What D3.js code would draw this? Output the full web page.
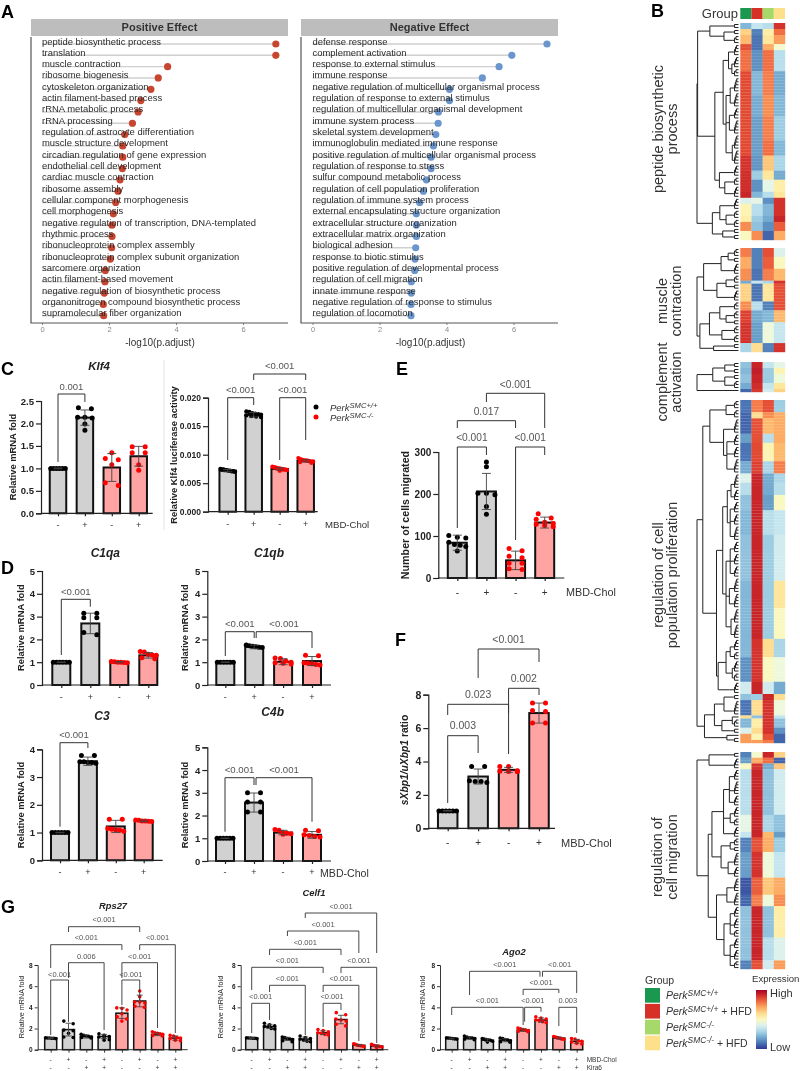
<!DOCTYPE html>
<html><head><meta charset="utf-8">
<script src="https://cdn.jsdelivr.net/npm/d3@7"></script>
<style>
html,body{margin:0;padding:0;background:#fff}
svg{display:block;filter:blur(.35px)}
text{font-family:"Liberation Sans",Arial,sans-serif}
</style></head><body><div id="chart"></div>
<script>
// ---------- Panel A data ----------
const posTerms=["peptide biosynthetic process","translation","muscle contraction","ribosome biogenesis","cytoskeleton organization","actin filament-based process","rRNA metabolic process","rRNA processing","regulation of astrocyte differentiation","muscle structure development","circadian regulation of gene expression","endothelial cell development","cardiac muscle contraction","ribosome assembly","cellular component morphogenesis","cell morphogenesis","negative regulation of transcription, DNA-templated","rhythmic process","ribonucleoprotein complex assembly","ribonucleoprotein complex subunit organization","sarcomere organization","actin filament-based movement","negative regulation of biosynthetic process","organonitrogen compound biosynthetic process","supramolecular fiber organization"];
const posValues=[6.98,6.98,3.75,3.47,3.25,2.95,2.87,2.70,2.47,2.41,2.41,2.40,2.33,2.27,2.20,2.13,2.09,2.09,2.08,2.04,1.89,1.88,1.86,1.83,1.84];
const negTerms=["defense response","complement activation","response to external stimulus","immune response","negative regulation of multicellular organismal process","regulation of response to external stimulus","regulation of multicellular organismal development","immune system process","skeletal system development","immunoglobulin mediated immune response","positive regulation of multicellular organismal process","regulation of response to stress","sulfur compound metabolic process","regulation of cell population proliferation","regulation of immune system process","external encapsulating structure organization","extracellular structure organization","extracellular matrix organization","biological adhesion","response to biotic stimulus","positive regulation of developmental process","regulation of cell migration","innate immune response","negative regulation of response to stimulus","regulation of locomotion"];
const negValues=[7.0,5.95,5.57,5.07,4.09,4.09,3.76,3.75,3.68,3.61,3.54,3.54,3.40,3.31,3.20,3.10,3.10,3.10,3.08,3.06,3.05,2.95,2.95,2.94,2.94];

// ---------- Panel B data: [rows, col1, col2, col3, col4], -1 low .. +1 high ----------
const groupColors=["#1a9850","#d73027","#a6d96a","#fee08b"];
const heatPeptide=[[2,-.55,-.3,-.35,.8],[2,.25,-.75,.1,.6],[3,.35,-.8,.15,.45],[2,.7,-.8,.4,-.05],[7,.6,-.7,.6,-.35],[8,.72,-.55,.55,-.6],[7,.72,-.6,.5,-.55],[8,.72,-.65,.55,-.45],[5,.72,-.65,.6,-.55],[5,.8,-.68,.3,-.4],[3,.82,-.45,.15,-.6],[4,.82,-.7,-.15,.1],[2,.85,-.55,-.35,.15],[2,-.2,-.15,-.7,.8],[4,.05,-.35,-.55,.8],[2,.1,-.45,-.6,.85],[3,.5,-.5,-.7,.65],[3,0,.5,-.85,.4]];
const heatMuscle=[[3,.55,-.75,.7,-.2],[4,.4,-.75,.65,0],[4,.5,-.8,.55,.35],[1,-.6,-.3,-.4,.8],[6,.25,-.8,.15,.7],[3,.5,-.35,-.75,.7],[4,.75,-.6,-.55,.35],[7,.8,-.65,-.1,-.3],[3,-.4,.2,-.75,.8]];
const heatComplement=[[2,-.5,.85,-.3,-.15],[2,-.55,.88,-.45,.05],[3,-.5,.85,-.45,-.1],[2,-.6,.82,-.3,.15],[1,-.85,.78,-.25,.25]];
const heatProlif=[[4,-.8,.55,.7,-.45],[2,-.85,.2,.5,.4],[5,-.85,.7,.35,.4],[3,-.65,.7,-.35,.4],[6,-.8,.72,.05,.35],[4,-.6,.75,-.4,.55],[3,-.2,.85,-.6,-.4],[4,-.35,.85,-.6,-.35],[5,-.5,.85,-.65,0],[8,-.55,.85,-.35,-.3],[15,-.5,.85,-.45,-.25],[9,-.55,.85,-.45,.15],[10,-.55,.85,-.45,0],[6,-.55,.8,.2,-.4],[8,-.7,.8,0,-.1],[4,-.25,.85,-.25,-.6],[2,-.5,-.45,.85,.2],[5,-.8,.2,.8,-.1],[1,.2,-.5,.8,-.3],[3,-.55,.1,.8,-.5],[2,-.2,.2,.8,-.7],[2,.45,.05,.7,-.85],[1,.45,.45,.55,-.85]];
const heatMigration=[[2,-.75,-.05,.85,.25],[2,-.65,.4,.6,-.85],[2,0,.8,-.6,.3],[16,-.35,.85,-.5,-.25],[6,-.15,.85,-.4,-.5],[2,-.3,.85,.35,-.65],[5,-.75,.7,.4,-.45],[9,-.65,.8,-.1,-.3],[6,-.9,.65,.3,.4],[4,-.85,.55,-.1,.5],[11,-.5,.85,-.5,.1],[6,-.5,.85,-.35,-.2],[2,-.5,.85,-.35,-.2],[3,-.75,.7,-.25,.45]];
// Dendrograms: [height, ...children]; an integer child is a clade of that many rows
const treePeptide=[1,[.985,[.69,[.2,2],[.35,[.15,2],[.15,3]]],[.57,[.37,[.24,4,[.16,4,3]],[.3,[.2,5,5],[.22,4,5],[.15,5,5]]],[.46,[.12,4],[.33,[.18,3],[.13,4]]]]],[.63,[.45,[.18,4],[.3,[.15,3],[.1,3]]],[.38,[.1,2],[.1,2]]]];
const treeMuscle=[1,[.84,[.42,[.25,3,2],[.2,4]],[.52,[.3,3,2],[.2,4]]],[.93,[.7,[.45,3,[.3,3,2]],[.4,3,3]],[.6,2,1]]];
const treeComplement=[1,[.62,[.33,[.1,2],[.1,2]],[.33,[.1,2],[.1,3]]],1];
const treeProlif=[1,[.86,[.69,[.3,3,3],[.36,[.2,5],[.28,[.15,4],[.17,4],[.1,5]]]],[.53,[.38,[.27,[.18,5,4],[.2,4,4,5]],[.3,[.2,4,4,4],[.22,5,5],[.18,5,5]]],[.49,[.3,[.2,4,3],[.15,4,3]],[.22,4]]]],[.82,[.58,[.35,[.12,2],[.15,5]],[.4,[.15,1,3],[.2,2]]],[.28,1,2]]];
const treeMigration=[1,[.71,[.3,2],[.25,4]],[.73,[.64,[.36,[.22,4,5,4],[.2,4,[.1,3]],[.18,4]],[.42,[.2,3,2],[.25,5,4]]],[.53,[.28,[.15,5],[.15,5]],[.35,[.2,4,4,3],[.2,4,4,3]]]]];

// ---------- Bar panels data ----------
const ctrl6=[1,1,1,1,1,1];
const klf4Means=[1.0,2.13,1.02,1.27], klf4Errs=[.01,.17,.31,.22];
const klf4Points=[ctrl6,[2.35,2.33,2.14,2.14,2.12,1.99,1.85],[1.35,1.22,1.19,1.08,.68,.62],[1.48,1.48,1.35,1.35,1.08,.96]];
const lucMeans=[.0072,.0170,.0075,.0089], lucErrs=[.0002,.0004,.0002,.0002];
const lucPoints=[[.0075,.0074,.0074,.0073,.0073,.0072,.0072,.0071,.0071,.0070],[.0176,.0175,.0173,.0172,.0171,.0170,.0169,.0168,.0167,.0166],[.0079,.0078,.0077,.0076,.0076,.0075,.0074,.0074,.0073,.0072],[.0094,.0092,.0091,.0090,.0090,.0089,.0088,.0088,.0087,.0086]];
const c1qaMeans=[1,2.7,1.0,1.3], c1qaErrs=[.01,.45,.03,.12];
const c1qaPoints=[ctrl6,[3.15,3.15,2.95,2.95,2.3,2.2],[1.03,1.02,1,1,.99,.98],[1.47,1.45,1.35,1.32,1.3,1.2,1.15]];
const c1qbMeans=[1,1.67,1.02,1.05], c1qbErrs=[.01,.08,.13,.2];
const c1qbPoints=[ctrl6,[1.75,1.72,1.7,1.68,1.66,1.65],[1.18,1.16,1.05,1.0,.98,.95,.92],[1.3,1.28,.98,.95,.93,.9,.88]];
const c3Means=[1,3.57,1.22,1.42], c3Errs=[.01,.15,.22,.03];
const c3Points=[ctrl6,[3.78,3.78,3.55,3.55,3.52,3.52,3.5],[1.48,1.48,1.15,1.12,1.1,1.08,1.05],[1.45,1.44,1.42,1.42,1.41,1.4]];
const c4bMeans=[1,2.57,1.25,1.15], c4bErrs=[.01,.42,.1,.15];
const c4bPoints=[ctrl6,[3.0,3.0,2.6,2.6,2.15,2.15],[1.38,1.35,1.25,1.22,1.2,1.18],[1.35,1.33,1.15,1.12,1.08,1.05]];
const migMeans=[84,206,42,132], migErrs=[18,43,22,13];
const migPoints=[[101,97,95,85,80,78,75,64],[276,265,202,202,198,170,152],[70,65,52,48,35,35,22,20],[153,143,140,133,130,128,125,122]];
const xbpMeans=[1.05,3.1,3.5,6.9], xbpErrs=[.02,.45,.15,.6];
const xbpPoints=[[1.03,1.03,1.03,1.03,1.03,1.03],[3.7,3.7,2.85,2.8,2.8,2.75],[3.7,3.7,3.45,3.42,3.4,3.38],[7.5,7.5,7.05,7.0,6.3,6.3]];
const rpsMeans=[1.1,1.9,1.25,1.25,3.45,4.6,1.45,1.1], rpsErrs=[.03,.6,.15,.2,.5,.55,.12,.2];
const rpsPoints=[[1.12,1.1,1.1,1.08,1.08,1.05],[2.7,2.45,1.85,1.8,1.55,1.2,1.15],[1.45,1.35,1.3,1.25,1.2,1.15,1.1],[1.5,1.35,1.25,1.2,1.1,.95,.9],[3.95,3.9,3.75,3.4,3.1,2.9,2.7],[5.55,5.0,4.5,4.5,4.4,4.1,4.0],[1.7,1.6,1.55,1.5,1.45,1.35,1.3],[1.35,1.3,1.15,1.1,1.05,.9,.85]];
const celfMeans=[1.1,2.2,1.02,1.0,1.6,2.85,.42,.35], celfErrs=[.03,.2,.15,.2,.18,.4,.08,.09];
const celfPoints=[[1.12,1.1,1.1,1.08,1.08,1.05],[2.5,2.35,2.25,2.2,2.15,2.0,1.95],[1.2,1.15,1.05,1,.95,.85,.75],[1.3,1.15,1.05,1,.9,.8,.75],[1.9,1.8,1.7,1.6,1.55,1.45,1.4],[3.5,3.3,2.9,2.8,2.7,2.4,2.25],[.55,.5,.45,.4,.38,.35,.3],[.5,.42,.38,.35,.3,.25,.2]];
const agoMeans=[1.05,1.1,.9,.9,1.85,2.8,1.1,.8], agoErrs=[.05,.12,.12,.15,.12,.2,.1,.18];
const agoPoints=[[1.12,1.1,1.08,1.05,1.02,1.0],[1.3,1.2,1.12,1.1,1.05,1,.95],[1.05,1,.95,.9,.88,.8,.72],[1.1,1.05,.95,.9,.85,.75,.7],[2.05,1.98,1.9,1.85,1.8,1.75,1.7],[3.1,3,2.9,2.8,2.75,2.65,2.55],[1.25,1.2,1.15,1.1,1.05,1,.98],[1.05,1,.85,.8,.72,.6,.55]];
const signs4=["-","+","-","+"];
const signs8a=["-","+","-","+","-","+","-","+"], signs8b=["-","-","+","+","-","-","+","+"];

const svg=d3.select("#chart").append("svg").attr("width",800).attr("height",1071).attr("viewBox","0 0 800 1071");
const txt=(g,x,y,s,o={})=>g.append("text").attr("x",x).attr("y",y).attr("text-anchor",o.a||"middle").attr("dominant-baseline","central")
  .attr("font-size",o.fs||10).attr("font-weight",o.w||"normal").attr("font-style",o.i?"italic":"normal").attr("fill",o.c||"#222").text(s);

// ---------- Panel letters ----------
[["A",1,12],["B",651,11],["C",1,369],["D",1,568],["E",396,369],["F",395,640],["G",1,907]].forEach(d=>txt(svg,d[1],d[2],d[0],{a:"start",fs:18,w:"bold",c:"#000"}));

// ---------- Panel A ----------
function lollipop(title,terms,vals,left,zero,color){
  const g=svg.append("g"), right=left+257, rowY=d3.scalePoint().domain(terms).range([44,315.7]);
  const x=d3.scaleLinear([0,6],[zero,zero+201]);
  g.append("rect").attr("x",left).attr("y",19).attr("width",257).attr("height",17).attr("fill","#bdbdbd");
  txt(g,(left+right)/2,27,title,{fs:11,w:"bold",c:"#333"});
  g.selectAll(".stem").data(terms).join("line").attr("x1",zero).attr("x2",(d,i)=>x(vals[i])).attr("y1",d=>rowY(d)).attr("y2",d=>rowY(d)).attr("stroke","#cfcfcf").attr("stroke-width",1.4);
  g.selectAll(".pt").data(terms).join("circle").attr("cx",(d,i)=>x(vals[i])).attr("cy",d=>rowY(d)).attr("r",3.6).attr("fill",color);
  g.selectAll(".lab").data(terms).join("text").attr("x",zero).attr("y",d=>rowY(d)-3).attr("dominant-baseline","central").attr("font-size",9.45).attr("fill","#2a2a2a").text(d=>d);
  const ax=g.append("g").attr("transform","translate(0,323)").call(d3.axisBottom(x).tickValues([0,2,4,6]).tickSize(2).tickPadding(2).tickFormat(d3.format("d")));
  ax.select(".domain").remove(); ax.selectAll("line").attr("stroke","#888");
  ax.selectAll("text").attr("font-size",7.5).attr("fill","#888").attr("font-family","Liberation Sans");
  g.append("path").attr("d",`M${left},37V323H${right}`).attr("fill","none").attr("stroke","#555").attr("stroke-width",1.2);
  txt(g,zero+118,342,"-log10(p.adjust)",{fs:10,c:"#333"});
}
lollipop("Positive Effect",posTerms,posValues,31,42,"#c8452f");
lollipop("Negative Effect",negTerms,negValues,301,312.5,"#6a96cd");

// ---------- Panel B ----------
const colX=d3.scaleBand().domain(d3.range(4)).range([740.3,785]);
const dendX=d3.scaleLinear([0,1],[738.5,697]);
const heatColor=v=>d3.interpolateRdYlBu((1-v)/2);
svg.selectAll(".grp").data(groupColors).join("rect").attr("x",(d,i)=>colX(i)).attr("y",8).attr("width",colX.bandwidth()).attr("height",11).attr("fill",d=>d);
txt(svg,738,13,"Group",{a:"end",fs:13,c:"#333"});
function heatBlock(segs,tree,y0,y1){
  const rows=segs.flatMap(s=>d3.range(s[0]).map(()=>s.slice(1)));
  const y=d3.scaleBand().domain(d3.range(rows.length)).range([y0,y1]);
  const g=svg.append("g");
  rows.forEach((r,i)=>g.selectAll(null).data(r).join("rect").attr("x",(d,c)=>colX(c)).attr("y",y(i)).attr("width",colX.bandwidth()+.2).attr("height",y.bandwidth()+.2).attr("fill",heatColor));
  let next=0; const segsOut=[];
  const seg=(h1,y1,h2,y2)=>segsOut.push(`M${dendX(h1)},${y1}L${dendX(h2)},${y2}`);
  const rowC=()=>y(next++)+y.bandwidth()/2;
  function walk(n){
    if(typeof n==="number"){
      let cy=rowC(),ch=0;
      for(let i=1;i<n;i++){
        const ny=rowC(),nh=.025+.07*i/Math.max(n-1,1);
        seg(ch,cy,nh,cy);seg(0,ny,nh,ny);seg(nh,cy,nh,ny);
        cy=(cy+ny)/2;ch=nh;
      }
      return {y:cy,h:ch};
    }
    const h=n[0],kids=n.slice(1).map(walk);
    kids.forEach(k=>seg(k.h,k.y,h,k.y));
    if(kids.length>1)seg(h,kids[0].y,h,kids[kids.length-1].y);
    return {y:d3.mean([kids[0].y,kids[kids.length-1].y]),h};
  }
  walk(tree);
  g.append("path").attr("d",segsOut.join("")).attr("fill","none").attr("stroke","#222").attr("stroke-width",1);
}
heatBlock(heatPeptide,treePeptide,23,240);
heatBlock(heatMuscle,treeMuscle,248,352);
heatBlock(heatComplement,treeComplement,362,392);
heatBlock(heatProlif,treeProlif,400,743);
heatBlock(heatMigration,treeMigration,752,969);
function rotLabel(x,cy,s,fs){svg.append("text").attr("transform",`translate(${x},${cy}) rotate(-90)`).attr("text-anchor","middle").attr("dominant-baseline","central").attr("font-size",fs).attr("fill","#333").text(s);}
rotLabel(658,129,"peptide biosynthetic",14.5);rotLabel(672,129,"process",14.5);
rotLabel(662,301,"muscle",14.5);rotLabel(676,301,"contraction",14.5);
rotLabel(662,382,"complement",14.5);rotLabel(676,382,"activation",14.5);
rotLabel(658,575,"regulation of cell",14.5);rotLabel(672,575,"population proliferation",14.5);
rotLabel(657,857,"regulation of",14.5);rotLabel(672,857,"cell migration",14.5);

// Legend
txt(svg,645,980,"Group",{a:"start",fs:10.5,c:"#333"});
const perkLabels=[["SMC+/+",""],["SMC+/+"," + HFD"],["SMC-/-",""],["SMC-/-"," + HFD"]];
function perk(g,x,y,sup,tail,fs){
  const t=g.append("text").attr("x",x).attr("y",y).attr("font-size",fs).attr("fill","#333");
  t.append("tspan").attr("font-style","italic").text("Perk");
  t.append("tspan").attr("font-style","italic").attr("font-size",fs*.8).attr("dy",-fs*.35).text(sup);
  if(tail)t.append("tspan").attr("dy",fs*.35).text(tail);
}
const legY=d3.scaleBand().domain(d3.range(4)).range([987.5,1051]);
perkLabels.forEach((p,i)=>{
  svg.append("rect").attr("x",645).attr("y",legY(i)+.5).attr("width",15).attr("height",legY.bandwidth()-1.2).attr("fill",groupColors[i]);
  perk(svg,666,legY(i)+legY.bandwidth()/2+4,p[0],p[1],10.5);
});
const grad=svg.append("defs").append("linearGradient").attr("id","hg").attr("x1",0).attr("x2",0).attr("y1",0).attr("y2",1);
d3.range(0,1.001,.1).forEach(t=>grad.append("stop").attr("offset",t).attr("stop-color",d3.interpolateRdYlBu(t)));
svg.append("rect").attr("x",756).attr("y",990).attr("width",11).attr("height",59).attr("fill","url(#hg)");
txt(svg,752,978,"Expression",{a:"start",fs:9.6,c:"#333"});
txt(svg,770,993,"High",{a:"start",fs:11,c:"#333"});
txt(svg,770,1047,"Low",{a:"start",fs:11,c:"#333"});

// ---------- Bar panels ----------
function swarm(vals,y,dia,width){
  const sorted=vals.slice().sort((a,b)=>b-a), bins=[];
  sorted.forEach(v=>{const b=bins[bins.length-1]; if(b&&Math.abs(y(b[0])-y(v))<dia*.85)b.push(v);else bins.push([v]);});
  const out=[];
  bins.forEach(b=>{const step=Math.min(dia*2.6,(width-dia*.2)/Math.max(b.length-1,1));
    b.forEach((v,i)=>out.push({v,dx:(i-(b.length-1)/2)*step}));});
  return out;
}
function barPanel(p){
  const g=svg.append("g"), n=p.means.length;
  const x=d3.scalePoint().domain(d3.range(n)).range([p.first,p.last]);
  const y=d3.scaleLinear([0,p.yMax],[p.y0,p.yTop]);
  const sw=p.sw||2, r=p.r||2.5, cap=p.cap||4.5;
  p.means.forEach((m,i)=>{
    g.append("rect").attr("x",x(i)-p.bw/2).attr("y",y(m)).attr("width",p.bw).attr("height",p.y0-y(m)).attr("fill",i<n/2?"#d1d1d1":"#ffa3a3").attr("stroke","#111").attr("stroke-width",sw);
  });
  p.points.forEach((pts,i)=>{
    g.selectAll(null).data(swarm(pts,y,r*2,p.bw-1)).join("circle").attr("cx",d=>x(i)+d.dx).attr("cy",d=>y(d.v)).attr("r",r).attr("fill",i<n/2?"#000":"#f00");
  });
  p.means.forEach((m,i)=>{
    const e=p.errs[i];
    g.append("path").attr("d",`M${x(i)},${y(m+e)}V${y(m-e)}M${x(i)-cap},${y(m+e)}h${cap*2}M${x(i)-cap},${y(m-e)}h${cap*2}`).attr("fill","none").attr("stroke","#444").attr("stroke-width",.9);
  });
  const yAxis=d3.axisLeft(y).tickValues(p.ticks).tickSize(p.tl||5).tickPadding(2).tickFormat(d3.format(p.fmt||"d"));
  const ya=g.append("g").attr("transform",`translate(${p.ax},0)`).call(yAxis);
  ya.selectAll("path,line").attr("stroke","#222").attr("stroke-width",sw*.6);
  ya.selectAll("text").attr("font-size",p.tfs||9.5).attr("font-weight","bold").attr("fill","#222").attr("font-family","Liberation Sans");
  const xa=g.append("g").attr("transform",`translate(0,${p.y0})`).call(d3.axisBottom(x).tickSize(3).tickFormat(""));
  xa.select(".domain").remove(); xa.selectAll("line").attr("stroke","#222").attr("stroke-width",sw*.6);
  g.append("line").attr("x1",p.ax).attr("x2",p.axEnd).attr("y1",p.y0).attr("y2",p.y0).attr("stroke","#222").attr("stroke-width",sw*.6);
  (p.signRows||[signs4]).forEach((row,k)=>row.forEach((s,i)=>txt(g,x(i),p.signY+k*(p.signGap||8),s,{fs:p.sfs||9,c:"#333"})));
  if(p.title)txt(g,p.title[1],p.title[2],p.title[0],{fs:p.title[3]||12,w:"bold",i:true,c:"#222"});
  if(p.yLabel){
    const t=g.append("text").attr("transform",`translate(${p.yLabel[1]},${p.yLabel[2]}) rotate(-90)`).attr("text-anchor","middle").attr("dominant-baseline","central").attr("font-size",p.yLabel[3]).attr("font-weight",p.yLabel[4]||"bold").attr("fill","#222");
    if(Array.isArray(p.yLabel[0]))p.yLabel[0].forEach(s=>t.append("tspan").attr("font-style",s[1]?"italic":"normal").text(s[0]));
    else t.text(p.yLabel[0]);
  }
  (p.brackets||[]).forEach(b=>{
    const x1=x(b[0])+(b[7]||0), x2=x(b[1])+(b[8]||0);
    g.append("path").attr("d",`M${x1},${b[4]}V${b[3]}H${x2}V${b[5]}`).attr("fill","none").attr("stroke","#333").attr("stroke-width",p.bsw||1);
    txt(g,(x1+x2)/2,b[6],b[2],{fs:p.bfs||9.6,c:"#555"});
  });
}
const LT="<0.001";
barPanel({means:klf4Means,errs:klf4Errs,points:klf4Points,first:58,last:138.7,bw:16.5,y0:513.3,yTop:401,yMax:2.5,ax:41,axEnd:152.7,ticks:[0,.5,1,1.5,2,2.5],fmt:".1f",tfs:9.5,signY:525,
  title:["Klf4",99,366,11.5],yLabel:["Relative mRNA fold",12,457,9.4],bfs:9.5,brackets:[[0,1,"0.001",394,462,402,386]]});
barPanel({means:lucMeans,errs:lucErrs,points:lucPoints,first:227.7,last:305.7,bw:16.5,y0:511.7,yTop:397.7,yMax:.02,ax:208,axEnd:317.7,ticks:[0,.005,.01,.015,.02],fmt:".3f",tfs:8.5,signY:524,r:2.2,
  yLabel:["Relative Klf4 luciferase activity",173,455,9.4],bfs:9.5,brackets:[[0,1,LT,397.7,460,405,389.3],[2,3,LT,397.7,460,440,389.3],[1,3,LT,374,380,380,365]]});
svg.append("line").attr("x1",164).attr("x2",164).attr("y1",360).attr("y2",530).attr("stroke","#ddd").attr("stroke-width",.8);
svg.append("circle").attr("cx",316).attr("cy",407).attr("r",2.5).attr("fill","#000");
svg.append("circle").attr("cx",316).attr("cy",417).attr("r",2.5).attr("fill","#f00");
perk(svg,330,411,"SMC+/+","",9.5);perk(svg,330,421,"SMC-/-","",9.5);
txt(svg,325,524,"MBD-Chol",{a:"start",fs:9.6,c:"#333"});

const d5=[0,1,2,3,4,5];
barPanel({means:c1qaMeans,errs:c1qaErrs,points:c1qaPoints,first:61.3,last:148.3,bw:18,y0:685,yTop:571,yMax:5,ax:42,axEnd:157.7,ticks:d5,signY:697,title:["C1qa",105.3,552.7],yLabel:["Relative mRNA fold",20,627.7,9.4],brackets:[[0,1,LT,599.3,655,606.7,591]]});
barPanel({means:c1qbMeans,errs:c1qbErrs,points:c1qbPoints,first:225.3,last:312,bw:18,y0:685,yTop:571,yMax:5,ax:207.3,axEnd:331,ticks:d5,signY:697,title:["C1qb",269,552.7],yLabel:["Relative mRNA fold",184,627.7,9.4],brackets:[[0,1,LT,631.7,656,638,623.7],[1,3,LT,631.7,638,648,623.7,2,0]]});
barPanel({means:c3Means,errs:c3Errs,points:c3Points,first:60,last:143.7,bw:18,y0:860.3,yTop:749.3,yMax:4,ax:42,axEnd:162.7,ticks:[0,1,2,3,4],signY:872,title:["C3",102,715.7],yLabel:["Relative mRNA fold",20,805,9.4],brackets:[[0,1,LT,742.7,826.7,748,734]]});
barPanel({means:c4bMeans,errs:c4bErrs,points:c4bPoints,first:225,last:312,bw:18,y0:861,yTop:747.3,yMax:5,ax:207.3,axEnd:331,ticks:d5,signY:872,title:["C4b",272.7,711.7],yLabel:["Relative mRNA fold",184,805,9.4],brackets:[[0,1,LT,777.7,831.7,785,769.3],[1,3,LT,777.7,785,821.7,769.3,2,0]]});
txt(svg,320,873,"MBD-Chol",{a:"start",fs:10.6,c:"#333"});

barPanel({means:migMeans,errs:migErrs,points:migPoints,first:457.3,last:544.7,bw:19,y0:578,yTop:452,yMax:300,ax:438.3,axEnd:564.3,ticks:[0,100,200,300],tfs:10,signY:592,sfs:10,yLabel:["Number of cells migrated",405,515,10.7],bfs:10.2,
  brackets:[[0,1,LT,447,528,455,437],[2,3,LT,447,540,455,437],[0,2,"0.017",420.7,428,428,411],[1,3,LT,393.3,402,428,384]]});
txt(svg,566,592,"MBD-Chol",{a:"start",fs:10.8,c:"#333"});
barPanel({means:xbpMeans,errs:xbpErrs,points:xbpPoints,first:447.7,last:539,bw:19.5,y0:828.3,yTop:694.7,yMax:8,ax:428.3,axEnd:555,ticks:[0,2,4,6,8],tfs:10.5,signY:842.7,sfs:10,yLabel:[[["sXbp1/uXbp1",true],[" ratio",false]],404,760,10.3],bfs:10.5,
  brackets:[[0,1,"0.003",735.7,803,753,725],[0,2,"0.023",704.3,715,713,694],[2,3,"0.002",688.3,754,695,678],[1,3,LT,649,678,662,639]]});
txt(svg,561,843,"MBD-Chol",{a:"start",fs:11,c:"#333"});

const gCommon={bw:12,y0:1049.7,yTop:965,yMax:8,ticks:[0,2,4,6,8],tfs:6.5,tl:3,sw:1.5,r:1.8,cap:3,signY:1059,signGap:8,sfs:6.5,signRows:[signs8a,signs8b],bfs:7.5,bsw:.9};
barPanel({...gCommon,means:rpsMeans,errs:rpsErrs,points:rpsPoints,first:50.7,last:175.3,ax:37.7,axEnd:187.7,title:["Rps27",113,905.7,9.4],yLabel:["Relative mRNA fold",21,1007,7.2,"normal"],
  brackets:[[0,1,LT,980,1035,1022,974],[1,3,"0.006",962.7,978,1030,956],[4,5,LT,980,1005,1000,974],[4,6,LT,962.7,978,1028,956],[0,4,LT,944.7,968,950,937.7],[5,7,LT,944.7,950,1033,937.7],[1,5,LT,926.7,932,932,919.7]]});
barPanel({...gCommon,means:celfMeans,errs:celfErrs,points:celfPoints,first:251.7,last:376.7,ax:240.7,axEnd:388.3,title:["Celf1",314,892,9.4],yLabel:["Relative mRNA fold",220,1007,7.2,"normal"],
  brackets:[[0,1,LT,1003.3,1033,1020,996.7],[1,3,LT,985.3,992,1035,978],[4,5,LT,1003.3,1027,1010,996.7],[4,6,LT,985.3,992,1041,978],[0,4,LT,967.3,990,973,960],[5,7,LT,967.3,973,1043,960],[1,5,LT,949.3,955,955,942],[2,6,LT,931,936,953,924],[3,7,LT,913,918,953,906.7]]});
barPanel({...gCommon,means:agoMeans,errs:agoErrs,points:agoPoints,first:451.7,last:576.7,ax:440,axEnd:583.3,title:["Ago2",514,951,9.4],yLabel:["Relative mRNA fold",422.3,1007,7.2,"normal"],
  brackets:[[0,4,LT,1007.3,1015,1025,1000],[4,5,LT,1007.3,1021.7,1011.7,1000,1.5,0],[6,7,"0.003",1007.3,1026,1033,1000],[4,6,LT,989.3,995,993,982],[1,5,LT,971.3,995,976.7,964,0,-1],[5,7,LT,971.3,976.7,993,964,1.5,0]]});
txt(svg,586.7,1059,"MBD-Chol",{a:"start",fs:6.5,c:"#333"});
txt(svg,586.7,1067,"Kira6",{a:"start",fs:6.5,c:"#333"});
</script></body></html>
